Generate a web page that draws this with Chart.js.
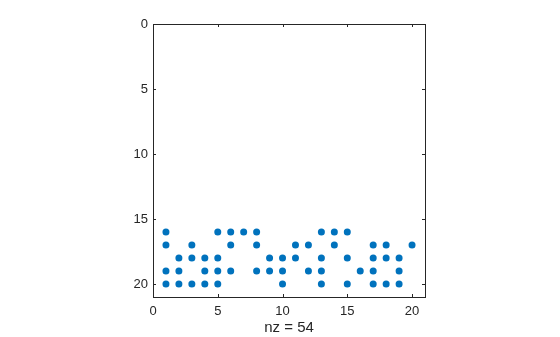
<!DOCTYPE html>
<html>
<head>
<meta charset="utf-8">
<script src="https://cdn.jsdelivr.net/npm/chart.js@4/dist/chart.umd.min.js"></script>
<style>
  html, body { margin: 0; padding: 0; background: #fff; }
  #wrap { width: 560px; height: 337px; }
</style>
</head>
<body>
<div id="wrap"><canvas id="spy"></canvas></div>
<script>
// nonzero column indices for each row of the sparse matrix
const rowIndex = [16, 17, 18, 19, 20];
const row16 = [1, 5, 6, 7, 8, 13, 14, 15];
const row17 = [1, 3, 6, 8, 11, 12, 14, 17, 18, 20];
const row18 = [2, 3, 4, 5, 9, 10, 11, 13, 15, 17, 18, 19];
const row19 = [1, 2, 4, 5, 6, 8, 9, 10, 12, 13, 16, 17, 19];
const row20 = [1, 2, 3, 4, 5, 10, 13, 15, 17, 18, 19];
const tickValues = [0, 5, 10, 15, 20];
const xLabel = 'nz = 54';

const rowsCols = [row16, row17, row18, row19, row20];
const points = [];
rowsCols.forEach((cols, i) => {
  cols.forEach(c => points.push({ x: c, y: rowIndex[i] }));
});

const axisColor = '#262626';
const fontSpec = { family: '"Liberation Sans", Arial, sans-serif', size: 13 };
const labelFont = { family: '"Liberation Sans", Arial, sans-serif', size: 15 };

// box around the axes plus inward tick marks, like matlab
const boxPlugin = {
  id: 'box',
  afterDraw(chart) {
    const { ctx, chartArea: a, scales } = chart;
    ctx.save();
    ctx.strokeStyle = axisColor;
    ctx.lineWidth = 1;
    ctx.strokeRect(a.left + 0.5, a.top + 0.5, a.right - a.left, a.bottom - a.top);
    ctx.beginPath();
    tickValues.forEach(v => {
      const px = Math.round(scales.x.getPixelForValue(v)) + 0.5;
      ctx.moveTo(px, a.bottom); ctx.lineTo(px, a.bottom - 3);
      ctx.moveTo(px, a.top); ctx.lineTo(px, a.top + 3);
      const py = Math.round(scales.y.getPixelForValue(v)) + 0.5;
      ctx.moveTo(a.left, py); ctx.lineTo(a.left + 3, py);
      ctx.moveTo(a.right, py); ctx.lineTo(a.right - 3, py);
    });
    ctx.stroke();
    ctx.restore();
  }
};

new Chart(document.getElementById('spy'), {
  type: 'scatter',
  data: {
    datasets: [{
      data: points,
      backgroundColor: '#0072BD',
      borderColor: '#0072BD',
      pointRadius: 3.5,
      pointHoverRadius: 3.5,
      borderWidth: 0
    }]
  },
  options: {
    responsive: true,
    maintainAspectRatio: false,
    animation: false,
    layout: { padding: { left: 0, right: 135, top: 24, bottom: 0 } },
    plugins: { legend: { display: false }, tooltip: { enabled: false } },
    scales: {
      x: {
        type: 'linear',
        min: 0,
        max: 21,
        grid: { display: false, drawTicks: false },
        border: { display: false },
        ticks: {
          stepSize: 5,
          includeBounds: false,
          color: axisColor,
          font: fontSpec,
          padding: 7,
          maxRotation: 0
        },
        title: { display: true, text: xLabel, color: axisColor, font: labelFont, padding: { top: 1, bottom: 0 } },
        afterFit(scale) { scale.height = 40; }
      },
      y: {
        type: 'linear',
        reverse: true,
        min: 0,
        max: 21,
        grid: { display: false, drawTicks: false },
        border: { display: false },
        ticks: {
          stepSize: 5,
          includeBounds: false,
          color: axisColor,
          font: fontSpec,
          padding: 5
        },
        afterFit(scale) { scale.width = 153; }
      }
    }
  },
  plugins: [boxPlugin]
});
</script>
</body>
</html>
